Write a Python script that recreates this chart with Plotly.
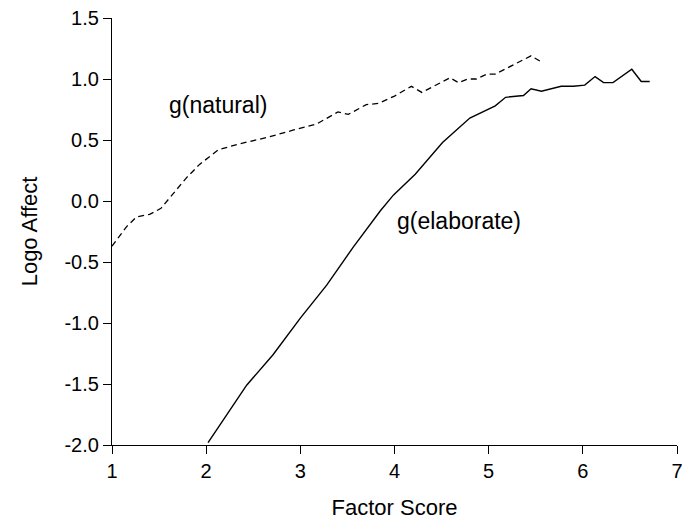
import plotly.graph_objects as go

# g(natural) - dashed
nat_x = [1.00, 1.155, 1.26, 1.40, 1.52, 1.65, 1.79, 1.93, 2.13, 2.36, 2.64, 2.92, 3.17,
         3.40, 3.51, 3.70, 3.83, 4.00, 4.18, 4.29, 4.59, 4.68, 4.78, 4.87, 4.98, 5.07,
         5.17, 5.45, 5.56]
nat_y = [-0.37, -0.21, -0.13, -0.11, -0.06, 0.06, 0.19, 0.30, 0.42, 0.47, 0.52, 0.58, 0.63,
         0.73, 0.71, 0.79, 0.80, 0.86, 0.94, 0.89, 1.01, 0.97, 1.00, 1.00, 1.04, 1.04,
         1.08, 1.19, 1.14]

# g(elaborate) - solid
ela_x = [2.02, 2.43, 2.71, 3.00, 3.28, 3.56, 3.85, 3.99, 4.22, 4.51, 4.80, 5.07, 5.18,
         5.37, 5.45, 5.56, 5.77, 5.90, 6.02, 6.13, 6.22, 6.32, 6.52, 6.62, 6.71]
ela_y = [-1.98, -1.51, -1.26, -0.96, -0.69, -0.38, -0.08, 0.05, 0.22, 0.48, 0.68, 0.78, 0.85,
         0.865, 0.92, 0.90, 0.94, 0.94, 0.95, 1.02, 0.97, 0.97, 1.08, 0.98, 0.98]

x_ticks = [1, 2, 3, 4, 5, 6, 7]
y_ticks = [1.5, 1.0, 0.5, 0.0, -0.5, -1.0, -1.5, -2.0]
y_ticktext = ["1.5", "1.0", "0.5", "0.0", "-0.5", "-1.0", "-1.5", "-2.0"]

font_family = "Liberation Sans, Arial, sans-serif"

fig = go.Figure()
fig.add_trace(go.Scatter(x=nat_x, y=nat_y, mode="lines",
                         line=dict(color="black", width=1.3, dash="6px,4px"),
                         showlegend=False, hoverinfo="skip"))
fig.add_trace(go.Scatter(x=ela_x, y=ela_y, mode="lines",
                         line=dict(color="black", width=1.4),
                         showlegend=False, hoverinfo="skip"))

fig.add_annotation(x=2.125, y=0.79, text="g(natural)", showarrow=False,
                   font=dict(size=23, color="black", family=font_family))
fig.add_annotation(x=4.69, y=-0.16, text="g(elaborate)", showarrow=False,
                   font=dict(size=23, color="black", family=font_family))

fig.update_layout(
    width=687, height=512,
    margin=dict(l=104, r=18, t=10, b=75),
    paper_bgcolor="white", plot_bgcolor="white",
    font=dict(family=font_family, color="black", size=18),
    xaxis=dict(range=[1, 7], tickvals=x_ticks, ticks="outside", ticklen=8,
               tickwidth=1.2, tickcolor="black", showline=True, linecolor="black",
               linewidth=1.2, showgrid=False, zeroline=False, automargin=False,
               tickfont=dict(size=20), ticklabeloverflow="allow",
               title=dict(text="Factor Score", font=dict(size=22), standoff=21)),
    yaxis=dict(range=[-2, 1.5], tickvals=y_ticks, ticktext=y_ticktext, ticks="outside",
               ticklen=8, tickwidth=1.2, tickcolor="black", showline=True,
               linecolor="black", linewidth=1.2, showgrid=False, zeroline=False,
               automargin=False,
               tickfont=dict(size=20), ticklabeloverflow="allow",
               title=dict(text="Logo Affect", font=dict(size=22), standoff=20)),
)

fig.write_html("out.html")
